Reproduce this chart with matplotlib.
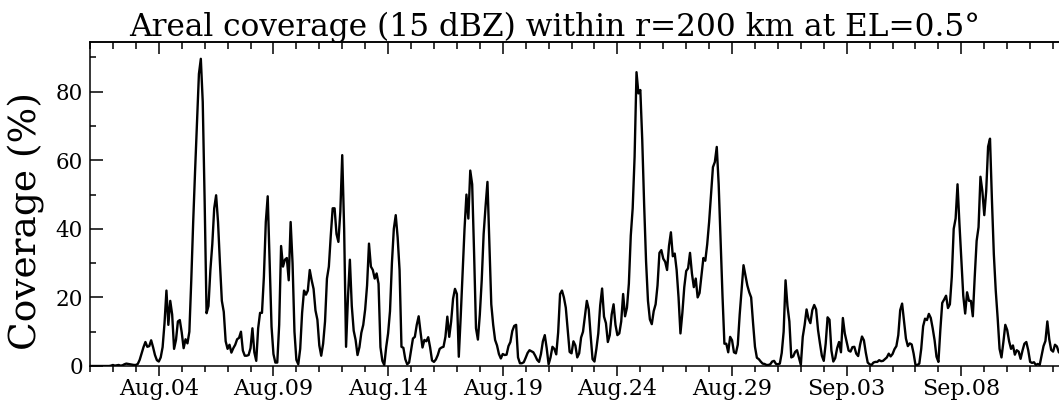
import matplotlib
matplotlib.use("Agg")
import matplotlib.pyplot as plt
import matplotlib.dates as mdates
from matplotlib.ticker import MultipleLocator, FixedLocator
import pandas as pd

plt.rcParams["font.family"] = ["DejaVu Serif"]

# 2-hourly areal coverage (%), one row per day starting Aug 01
start = "2019-08-01 00:00"
coverage = [
    0, 0, 0, 0, 0, 0, 0, 0, 0, 0, 0, 0.1,
    0.3, 0.1, 0.2, 0.3, 0.1, 0.2, 0.5, 0.7, 0.6, 0.5, 0.4, 0.3,
    0.3, 0.6, 1.8, 3.7, 5.5, 7, 5.6, 5.8, 7.5, 5.5, 3.2, 1.7,
    1.3, 2.5, 5.5, 12.5, 22, 12, 19, 15, 5, 7.6, 13, 13.4,
    9.8, 5.2, 7.8, 6.6, 10, 25, 42, 57, 71, 85.2, 89.6, 77,
    48, 15.4, 17.5, 28, 35.5, 46, 49.8, 42, 30, 19, 15.8, 7.2,
    5, 6.2, 3.9, 5.2, 6.2, 7.8, 8.2, 10, 4.5, 3, 3, 3.2,
    5.2, 11, 4, 1.5, 11, 15.5, 15.5, 26, 42, 49.5, 31, 11.5,
    3.5, 1, 1, 12, 35, 29, 31, 31.5, 25, 42, 30, 10,
    1.8, 0.5, 5, 15.5, 22, 20.8, 22, 28, 25, 22.5, 16.2, 13.5,
    6, 3, 6.5, 13, 25.5, 29, 38, 46, 46, 38.5, 36.2, 45,
    61.5, 40, 5.6, 20, 31, 17.5, 10.3, 7.6, 3.2, 5.5, 9.7, 12,
    16.5, 23.5, 35.7, 29, 28, 25.5, 27, 24, 5.5, 1.5, 0.3, 5.5,
    9.5, 16, 30, 40, 44, 37.5, 28, 5.6, 5.3, 2, 0.5, 1,
    4.5, 8, 8.5, 12, 14.5, 9.8, 5.4, 7.6, 7.2, 8.4, 5.4, 1.6,
    1.2, 1.9, 3.2, 5, 5.4, 5.6, 8.5, 14.4, 8.5, 13, 19.6, 22.5,
    21, 2.7, 14.4, 27.5, 40, 50, 43, 57, 53, 33, 11, 7.7,
    15, 25, 38.5, 46.5, 53.7, 36, 18, 12, 7.6, 6, 3.5, 2.2,
    3.5, 3.2, 3.3, 5.8, 7, 10.2, 11.7, 12, 2.5, 0.8, 0.8, 1.1,
    2.4, 3.8, 4.6, 4.3, 4, 3, 1.8, 1.2, 3.5, 7.2, 9, 5.2,
    0.5, 2.5, 5.6, 5, 3.4, 9.8, 21, 22, 20, 17, 10.5, 4.1,
    3.7, 7.2, 6, 2.5, 3.7, 8.3, 10, 14.5, 19, 16.5, 8.9, 2,
    1.3, 5, 9.5, 17.7, 22.6, 14.4, 12.5, 7, 9, 15, 18, 12,
    9, 9.5, 13, 21, 14.5, 17, 24, 38, 46, 61, 85.7, 79.5,
    80.5, 66, 47, 30.5, 19, 13.6, 12.2, 16, 18, 23.5, 33, 33.8,
    31.3, 30.4, 28, 35, 39, 32, 32.8, 28, 20, 9.5, 15.5, 23,
    27.7, 28.5, 33, 27, 23, 25.5, 20, 21.3, 26.5, 31.5, 30.7, 35.5,
    42, 50, 58, 59.5, 63.9, 53, 37, 20.5, 6.5, 6.5, 4, 8.5,
    7.5, 4, 3.7, 6.2, 15, 22.3, 29.4, 26.5, 23.5, 21.5, 20, 12.5,
    5.6, 2.4, 2, 1.3, 0.7, 0.6, 0.3, 0.3, 0.5, 1.3, 1.5, 0.6,
    0.5, 0.7, 3.8, 10, 25, 17.5, 13, 2.5, 2.8, 4.1, 4.6, 2.4,
    0.3, 8.5, 12, 16.5, 13.8, 12.5, 16.3, 17.8, 16.5, 10.5, 6.6, 3,
    1.5, 6.5, 14.2, 13.5, 4.5, 1.3, 2.3, 5.2, 7, 4, 14, 9.5,
    7, 4.5, 4.2, 5.5, 5.6, 3.6, 2.9, 6.2, 8.6, 7.5, 3.9, 1,
    0.5, 0.3, 1, 1.2, 1.2, 1.7, 1.4, 1.5, 2, 2.5, 3.6, 2.8,
    3.5, 4.9, 5.8, 9, 16.3, 18.2, 13, 8, 5.8, 6.6, 6.3, 3.7,
    0.3, 0.3, 0.7, 5, 11.6, 13.8, 13.4, 15.2, 14, 11, 7.5, 2.7,
    1.2, 10.5, 18.4, 19.4, 20.5, 16.9, 18, 26, 40, 43, 53, 41.5,
    31, 20.5, 15.3, 21.5, 19, 19, 14.5, 26, 36.5, 40.5, 55.2, 51,
    44, 51, 64, 66.3, 48.5, 32.6, 22, 14, 5, 2.5, 7, 12,
    10.5, 7.2, 5, 6, 3.3, 4.6, 4.2, 2.1, 4.5, 6.5, 7, 4.6,
    1.2, 0.9, 1.1, 0.3, 0.6, 0.3, 3.1, 5.8, 7.3, 13, 7.8, 4.7,
    4.2, 6.2, 5.7, 4, 3.7,
]
major_days = pd.date_range("2019-08-04", "2019-09-08", freq="5D")
xlim = ("2019-08-01", "2019-09-13")
title = "Areal coverage (15 dBZ) within r=200 km at EL=0.5°"

times = pd.date_range(start, periods=len(coverage), freq="2h")

fig = plt.figure(figsize=(10.59, 4.0), dpi=100)
# axes run past the right edge of the figure, as in the original
ax = fig.add_axes([90 / 1059, 34 / 400, 986 / 1059, 324 / 400])
ax.plot(times, coverage, color="black", lw=1.7)

ax.set_xlim(pd.Timestamp(xlim[0]), pd.Timestamp(xlim[1]))
ax.set_ylim(0, 94.5)

ax.xaxis.set_major_locator(FixedLocator(mdates.date2num(major_days)))
ax.xaxis.set_minor_locator(mdates.DayLocator())
ax.xaxis.set_major_formatter(mdates.DateFormatter("%b.%d"))
ax.yaxis.set_major_locator(MultipleLocator(20))
ax.yaxis.set_minor_locator(MultipleLocator(10))

ax.tick_params(axis="x", which="major", direction="out", length=7, width=1.1,
               top=False, labelsize=16, pad=2)
ax.tick_params(axis="x", which="minor", direction="out", length=4, width=1.1, top=False)
ax.tick_params(axis="y", which="major", direction="in", length=9, width=1.1,
               right=False, labelsize=15.5, pad=5)
ax.tick_params(axis="y", which="minor", direction="in", length=4.5, width=1.1, right=False)

top = ax.secondary_xaxis("top")
top.xaxis.set_major_locator(FixedLocator(mdates.date2num(major_days)))
top.xaxis.set_minor_locator(mdates.DayLocator())
top.tick_params(which="major", direction="in", length=8.5, width=1.1, labeltop=False)
top.tick_params(which="minor", direction="in", length=5, width=1.1)

for sp in ax.spines.values():
    sp.set_linewidth(1.1)
top.spines["top"].set_linewidth(1.1)

fig.text(555 / 1059, 1 - 36 / 400, title, ha="center", va="baseline", fontsize=22.5)
fig.text(27 / 1059, 1 - 221 / 400, "Coverage (%)", ha="center", va="center",
         rotation=90, fontsize=27)

fig.savefig("out.png", dpi=100)
